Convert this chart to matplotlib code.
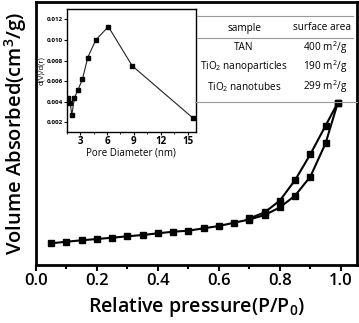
import matplotlib
matplotlib.use("Agg")
import matplotlib.pyplot as plt
from matplotlib.lines import Line2D
from matplotlib.ticker import MultipleLocator

plt.rcParams['font.family'] = ['Open Sans', 'DejaVu Sans']
plt.rcParams['mathtext.default'] = 'regular'

# Main isotherm data
p_ads = [0.05, 0.10, 0.15, 0.20, 0.25, 0.30, 0.35, 0.40, 0.45, 0.50,
         0.55, 0.60, 0.65, 0.70, 0.75, 0.80, 0.85, 0.90, 0.95, 0.99]
v_ads = [8.25, 8.86, 9.39, 9.89, 10.38, 10.91, 11.41, 12.05, 12.66, 13.04,
         13.95, 14.83, 16.08, 17.3, 19.0, 21.9, 26.4, 33.6, 46.3, 61.7]
p_des = [0.99, 0.95, 0.90, 0.85, 0.80, 0.75, 0.70]
v_des = [61.7, 53.0, 42.1, 32.3, 24.5, 20.0, 17.7]

# Inset pore size distribution
pore_d = [1.63, 1.89, 2.07, 2.37, 2.74, 3.26, 3.85, 4.74, 6.15, 8.8, 15.6]
dvdr = [0.0044, 0.0039, 0.0027, 0.0044, 0.0051, 0.0062, 0.0083, 0.0100, 0.0113, 0.0075, 0.0024]

# Table
tbl_header = ["sample", "surface area"]
tbl_samples = ["TAN", "TiO$_2$ nanoparticles", "TiO$_2$ nanotubes"]
tbl_areas = ["400 m$^2$/g", "190 m$^2$/g", "299 m$^2$/g"]

W, H = 359, 323
fig = plt.figure(figsize=(W / 100, H / 100), dpi=100)

def fx(px):
    return px / W

def fy(py):
    return 1 - py / H

narrow = ['Liberation Sans Narrow', 'Open Sans', 'DejaVu Sans']

ax = fig.add_axes([fx(36), fy(265), fx(357) - fx(36), fy(2) - fy(265)])
ax.plot(p_ads, v_ads, color='black', lw=1.5, marker='s', ms=5, zorder=3)
ax.plot(p_des, v_des, color='black', lw=1.5, marker='s', ms=5, zorder=3)
ax.set_xlim(0, 1.053)
ax.set_ylim(0, 100)
ax.xaxis.set_minor_locator(MultipleLocator(0.1))
ax.set_xticks([0.0, 0.2, 0.4, 0.6, 0.8, 1.0])
ax.set_xticklabels(["0.0", "0.2", "0.4", "0.6", "0.8", "1.0"], fontweight='semibold')
ax.set_yticks([])
ax.tick_params(axis='x', which='major', direction='out', length=4, width=1.5, labelsize=12, pad=2)
ax.tick_params(axis='x', which='minor', direction='out', length=3, width=1.5)
for s in ax.spines.values():
    s.set_linewidth(2)
ax.set_xlabel("Relative pressure(P/P$_0$)", fontsize=14, labelpad=4, fontweight='semibold')
ax.set_ylabel("Volume Absorbed(cm$^3$/g)", fontsize=14.5, labelpad=5, fontweight='semibold')

# Inset
ai = fig.add_axes([fx(66.7), fy(132.3), fx(195.7) - fx(66.7), fy(8.5) - fy(132.3)])
ai.plot(pore_d, dvdr, color='#222222', lw=0.8, marker='s', ms=2.8, mfc='black', mec='black')
ai.set_xlim(1.5, 15.9)
ai.set_ylim(0.00102, 0.01307)
ai.set_xticks([3, 6, 9, 12, 15])
ai.set_xticklabels(["3", "6", "9", "12", "15"], family=narrow, fontweight='bold')
ai.xaxis.set_minor_locator(MultipleLocator(1.5))
ai.set_yticks([0.002, 0.004, 0.006, 0.008, 0.010, 0.012])
ai.set_yticklabels(["0.002", "0.004", "0.006", "0.008", "0.010", "0.012"], family=narrow, fontweight='bold')
ai.tick_params(axis='x', which='major', direction='out', length=2, width=0.8, labelsize=7, pad=1)
ai.tick_params(axis='y', which='major', direction='out', length=2, width=0.8, labelsize=4.5, pad=1)
ai.tick_params(axis='x', which='minor', direction='out', length=1.5, width=0.6)
for s in ai.spines.values():
    s.set_linewidth(1.0)
ai.set_xlabel("Pore Diameter (nm)", fontsize=7, labelpad=0, family=narrow)
ai.set_ylabel("d(V)/d(r)", fontsize=5.5, labelpad=1, family=narrow)

# Table
tfs = 7.2
lc = '#999999'
fig.add_artist(Line2D([fx(197), fx(353)], [fy(15.7), fy(15.7)], color=lc, lw=0.8))
fig.add_artist(Line2D([fx(197), fx(353)], [fy(38.3), fy(38.3)], color=lc, lw=0.8))
fig.add_artist(Line2D([fx(195), fx(357)], [fy(102.3), fy(102.3)], color=lc, lw=0.8))
fig.text(fx(244.5), fy(28), tbl_header[0], ha='center', va='center', fontsize=tfs)
fig.text(fx(322), fy(28), tbl_header[1], ha='center', va='center', fontsize=tfs)
row_y = [48, 67, 87]
for s, a, yy in zip(tbl_samples, tbl_areas, row_y):
    fig.text(fx(244), fy(yy), s, ha='center', va='center', fontsize=tfs)
    fig.text(fx(325), fy(yy), a, ha='center', va='center', fontsize=tfs)

fig.savefig("out.png", dpi=100)
